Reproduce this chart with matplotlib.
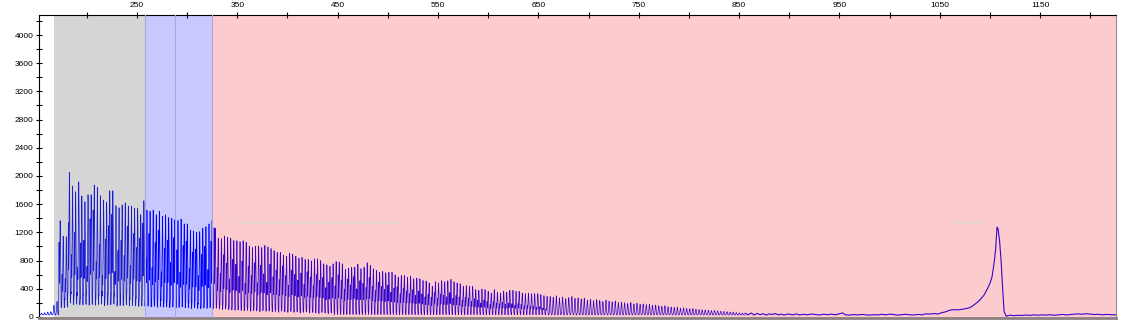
import numpy as np
import matplotlib
matplotlib.use("Agg")
import matplotlib.pyplot as plt
from matplotlib.ticker import FixedLocator, NullFormatter

plt.rcParams['font.family'] = ['Liberation Sans', 'DejaVu Sans']

# ladder peaks (repeat ladder, one peak every ~3 bp)
first_peak_bp = 155.0
peak_step_bp = 3.09

main_heights = [
    55, 60, 70, 75, 165, 220,
    # grey window
    1366, 1148, 1140, 2050, 1857, 1777, 1919, 1716, 1635, 1735, 1735, 1872, 1840,
    1720, 1660, 1625, 1790, 1790, 1580, 1550, 1590, 1620, 1575, 1575, 1540, 1540,
    # blue window
    1452, 1650, 1517, 1500, 1517, 1450, 1500, 1430, 1450, 1410, 1400, 1380, 1370,
    1390, 1320, 1320, 1230, 1220, 1200, 1210, 1260, 1280, 1320, 1370, 1260, 1120,
    1110, 1150, 1130, 1120, 1085,
    # pink window
    1082, 1068, 1082, 1058, 1007, 985, 1002, 1007, 985, 1016, 993, 970, 940, 917,
    917, 880, 862, 908, 890, 862, 834, 848, 815, 815, 796, 825, 825, 800, 754, 740, 720,
    754, 787, 778, 754, 674, 693, 707, 707, 750, 684, 707, 768, 730, 684, 660, 636,
    646, 627, 636, 636, 598, 565, 589, 589, 565, 580, 542, 551, 542, 518, 510,
    482, 435, 500, 482, 515, 500, 515, 534, 500, 482, 472, 435, 444, 435, 435, 388,
    378, 397, 388, 364, 340, 388, 350, 340, 364, 350, 378, 378, 364, 364, 340, 331,
    340, 331, 331, 331, 317, 302, 293,
    290, 280, 300, 270, 285, 260, 275, 290, 265, 270, 255, 265, 240, 250, 230, 245,
    235, 220, 240, 225, 215, 225, 205, 210, 200, 190, 205, 185, 195, 180, 185, 175,
    180, 165, 170, 160, 150, 160, 145, 140, 135, 140, 125, 130, 120, 115, 120, 110,
    105, 100, 100, 95, 90, 92, 85, 80, 78, 75, 70, 68, 62, 58, 55,
]

# shorter partner peak just before each main peak
partner_heights = [
    0, 0, 0, 0, 0, 0,
    990, 540, 480, 1230, 780, 1100, 600, 960, 1000, 620, 1300, 1420, 680, 940, 500,
    1020, 1200, 1360, 560, 860, 1000, 780, 1200, 640, 1100, 900,
    1040, 1250, 760, 1100, 620, 980, 1150, 560, 900, 1020, 700, 1050, 880, 560, 940,
    1000, 620, 860, 900, 520, 820, 940, 600, 1000, 1200, 640, 560, 820, 700, 480, 760,
    690, 520, 740, 420, 660, 540, 720, 430, 680, 560, 440, 700, 520, 620, 480, 680,
    540, 400, 620, 560, 480, 580, 420, 600, 520, 400, 560, 480, 520, 380, 460,
    520, 400, 560, 480, 360, 500, 420, 540, 360, 480, 440, 380, 520, 400, 340, 460,
    400, 360, 420, 320, 380, 400, 300, 380, 340, 300, 360, 280, 340, 300, 260,
    300, 260, 320, 240, 300, 280, 260, 320, 240, 280, 260, 220, 260, 240, 200, 240,
    220, 180, 220, 200, 160, 200, 180, 170, 190, 160, 180, 170, 150, 170, 160, 140,
    150, 130, 140, 120, 130, 110, 100,
]

# low stutter between peaks
grass_heights = [
    0, 0, 0, 0, 0, 0,
    200, 260, 310, 340, 280, 330, 250, 300, 360, 270, 320, 240, 290, 350, 260, 310,
    280, 330, 240, 300, 270, 320, 250, 290, 260, 240,
    280, 230, 260, 220, 250, 200, 240, 210, 230, 190, 220, 180, 210, 240, 190, 200,
    170, 210, 180, 160, 190, 170, 200, 150, 180, 160, 140, 150, 130, 120, 110,
    120, 100, 90, 110, 80, 100, 90, 70, 100, 80, 90, 70, 80, 60, 90, 70, 60, 80, 60,
    70, 50, 60, 70, 50, 60, 50, 40, 60, 50, 40, 50,
]

# tail of the trace incl. the expanded allele peak (bp, RFU)
tail_bp = [856, 859, 862, 865, 868, 871, 874, 877, 880, 883, 886, 889, 892, 895, 898,
           901, 904, 907, 910, 914, 918, 922, 926, 930, 934, 938, 942, 946, 950, 953,
           956, 960, 964, 968, 972, 976, 980, 984, 988, 992, 996, 1000, 1004, 1008,
           1012, 1016, 1020, 1024, 1028, 1032, 1036, 1040, 1044, 1048, 1052, 1056,
           1060, 1064, 1068, 1072, 1076, 1080, 1084, 1088, 1091, 1094, 1097, 1100,
           1102, 1104, 1105.5, 1107, 1108, 1109.5, 1111, 1112.5, 1114, 1116, 1120,
           1124, 1128, 1132, 1136, 1140, 1144, 1148, 1152, 1156, 1160, 1164, 1168,
           1172, 1176, 1180, 1184, 1188, 1192, 1196, 1200, 1204, 1208, 1212, 1216,
           1220, 1225]
tail_val = [52, 30, 56, 28, 50, 32, 46, 26, 44, 34, 48, 30, 40, 26, 42, 36, 30, 44,
            28, 38, 30, 42, 34, 28, 38, 32, 40, 30, 46, 56, 30, 26, 34, 28, 36, 30,
            26, 32, 28, 38, 30, 40, 34, 26, 32, 38, 30, 28, 36, 30, 44, 40, 48, 42,
            60, 74, 96, 104, 100, 108, 118, 132, 170, 215, 260, 310, 390, 480, 570,
            760, 950, 1275, 1250, 1080, 800, 420, 80, 12, 26, 18, 24, 20, 28, 22, 30,
            24, 30, 26, 32, 24, 30, 36, 28, 34, 40, 44, 38, 46, 40, 34, 38, 30, 36,
            32, 30]

baseline = 28

x_min, x_max = 152.5, 1225.5
ladder_end = tail_bp[0]

fig = plt.figure(figsize=(11.23, 3.29), dpi=100)
ax = fig.add_axes([39 / 1123, 1 - 318 / 329, (1116 - 39) / 1123, (318 - 15) / 329])

# build ladder trace from the peak lists
peak_bp = first_peak_bp + peak_step_bp * np.arange(len(main_heights))
xs = np.arange(x_min, ladder_end + 0.001, 0.04)
ys = np.full_like(xs, float(baseline))
for i, h in enumerate(main_heights):
    p = peak_bp[i]
    ys += max(h - baseline, 0) * np.exp(-0.5 * ((xs - p) / 0.45) ** 2)
    if i < len(partner_heights) and partner_heights[i] > 0:
        ys += (partner_heights[i] - baseline) * np.exp(-0.5 * ((xs - p + 1.1) / 0.17) ** 2)
    if i < len(grass_heights) and grass_heights[i] > 0:
        ys += (grass_heights[i] - baseline) * np.exp(-0.5 * ((xs - p - 1.45) / 0.2) ** 2)

ax.plot(xs, ys, color='#0000ff', lw=0.5, zorder=1)
ax.plot(tail_bp, tail_val, color='#0000ff', lw=0.8, zorder=1)

# analysis windows drawn over the trace
ax.axvspan(167.6, 258.3, color='#646464', alpha=0.265, lw=0, zorder=2)
ax.axvspan(258.3, 325.0, color='#0000ff', alpha=0.215, lw=0, zorder=2)
ax.axvspan(325.0, x_max, color='#f0141e', alpha=0.22, lw=0, zorder=2)
for xv in [258.3, 288.2, 325.0]:
    ax.axvline(xv, color='#a8a8e8', lw=0.8, zorder=3)

# faint marker lines
ax.hlines(1345, 350, 512, color='#e4dada', lw=1, zorder=3)
ax.hlines(1345, 1064, 1094, color='#e4dada', lw=1, zorder=3)

ax.set_xlim(x_min, x_max)
ax.set_ylim(-15, 4284)

ax.xaxis.tick_top()
ax.xaxis.set_major_locator(FixedLocator(list(range(250, 1151, 100))))
ax.xaxis.set_minor_locator(FixedLocator(list(range(200, 1201, 100))))
ax.yaxis.set_major_locator(FixedLocator(list(range(0, 4001, 400))))
ax.yaxis.set_minor_locator(FixedLocator(list(range(200, 4201, 400))))
ax.xaxis.set_minor_formatter(NullFormatter())
ax.yaxis.set_minor_formatter(NullFormatter())
ax.tick_params(axis='both', which='both', direction='inout', length=5, width=0.8,
               labelsize=6, colors='black', pad=1.5)
ax.tick_params(axis='x', which='both', top=True, bottom=False, labeltop=True,
               labelbottom=False, pad=2)

for side in ['top', 'left']:
    ax.spines[side].set_color('black')
    ax.spines[side].set_linewidth(0.8)
ax.spines['bottom'].set_color('#8c8080')
ax.spines['bottom'].set_linewidth(2)
ax.spines['right'].set_color('#909090')
ax.spines['right'].set_linewidth(0.8)

fig.savefig('out.png', dpi=100)
